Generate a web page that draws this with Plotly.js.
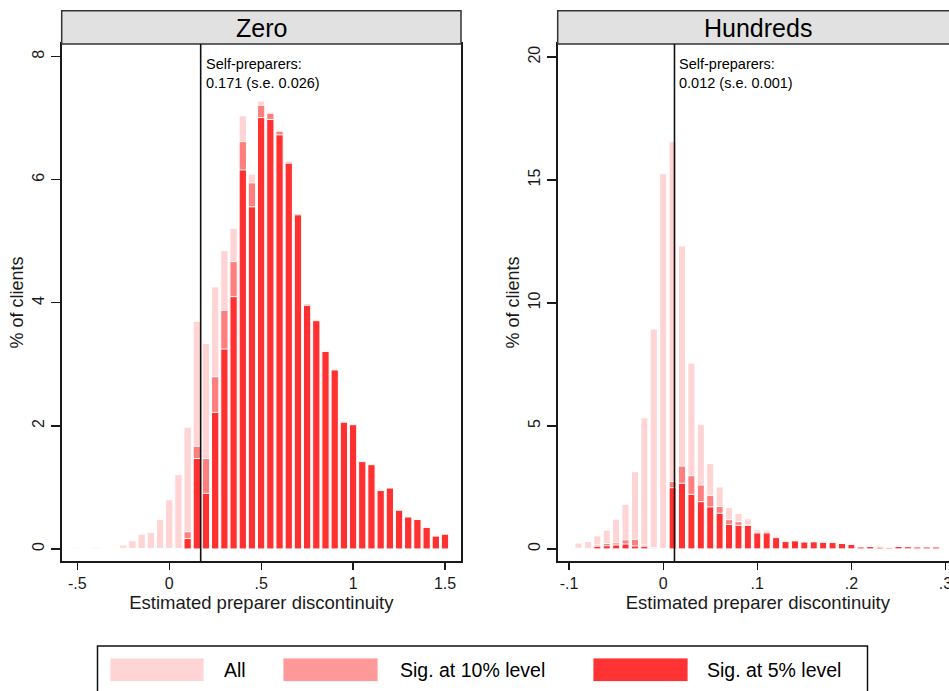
<!DOCTYPE html>
<html>
<head>
<meta charset="utf-8">
<script src="https://cdn.plot.ly/plotly-3.0.1.min.js"></script>
<style>
  html, body { margin: 0; padding: 0; overflow: hidden; background: #fff; }
  #chart { width: 960px; height: 691px; }
</style>
</head>
<body>
<div id="chart"></div>
<script>
// Distribution of estimated preparer discontinuities (% of clients), by rounding group.
const panelTitles = ['Zero', 'Hundreds'];
const seriesNames = ['All', 'Sig. at 10% level', 'Sig. at 5% level'];

// Panel "Zero": bin centres (width 0.05) and shares
const zeroBins = [-0.50, -0.45, -0.40, -0.35, -0.30, -0.25, -0.20, -0.15, -0.10, -0.05,
  0.00, 0.05, 0.10, 0.15, 0.20, 0.25, 0.30, 0.35, 0.40, 0.45,
  0.50, 0.55, 0.60, 0.65, 0.70, 0.75, 0.80, 0.85, 0.90, 0.95,
  1.00, 1.05, 1.10, 1.15, 1.20, 1.25, 1.30, 1.35, 1.40, 1.45, 1.50];
const zeroAll = [0.02, 0.02, 0.03, 0.01, 0.02, 0.065, 0.135, 0.24, 0.27, 0.48,
  0.80, 1.21, 1.98, 3.70, 3.34, 4.26, 4.85, 5.21, 7.04, 6.09,
  7.28, 7.10, 6.81, 6.31, 5.46, 3.99, 3.72, 3.23, 2.93, 2.07,
  2.03, 1.43, 1.39, 0.96, 1.01, 0.65, 0.54, 0.50, 0.37, 0.23, 0.26];
const zeroSig10 = [0.01, 0.00, 0.01, 0.00, 0.00, 0.01, 0.00, 0.00, 0.00, 0.00,
  0.00, 0.00, 0.28, 1.67, 1.47, 2.80, 3.88, 4.67, 6.62, 5.95,
  7.21, 7.08, 6.79, 6.29, 5.45, 3.98, 3.72, 3.22, 2.92, 2.07,
  2.03, 1.43, 1.38, 0.96, 1.00, 0.64, 0.53, 0.49, 0.36, 0.22, 0.25];
const zeroSig5 = [0.01, 0.00, 0.01, 0.00, 0.00, 0.01, 0.00, 0.00, 0.00, 0.00,
  0.00, 0.00, 0.17, 1.47, 0.905, 2.22, 3.25, 4.10, 6.16, 5.56,
  7.01, 6.98, 6.73, 6.27, 5.43, 3.96, 3.71, 3.21, 2.91, 2.06,
  2.02, 1.42, 1.37, 0.95, 0.99, 0.63, 0.52, 0.48, 0.35, 0.21, 0.24];

// Panel "Hundreds": bin centres (width 0.01) and shares
const hundredsBins = [-0.09, -0.08, -0.07, -0.06, -0.05, -0.04, -0.03, -0.02, -0.01,
  0.00, 0.01, 0.02, 0.03, 0.04, 0.05, 0.06, 0.07, 0.08, 0.09,
  0.10, 0.11, 0.12, 0.13, 0.14, 0.15, 0.16, 0.17, 0.18, 0.19,
  0.20, 0.21, 0.22, 0.23, 0.24, 0.25, 0.26, 0.27, 0.28, 0.29];
const hundredsAll = [0.24, 0.30, 0.53, 0.76, 1.21, 1.82, 3.14, 5.33, 8.94,
  15.26, 16.56, 12.32, 7.56, 5.07, 3.47, 2.52, 1.68, 1.45, 1.23,
  0.80, 0.77, 0.56, 0.35, 0.35, 0.33, 0.31, 0.31, 0.30, 0.27,
  0.23, 0.14, 0.11, 0.14, 0.08, 0.11, 0.14, 0.10, 0.14, 0.10];
const hundredsSig10 = [0.03, 0.02, 0.16, 0.22, 0.25, 0.37, 0.39, 0.16, 0.05,
  0.00, 2.74, 3.37, 2.98, 2.60, 2.18, 1.73, 1.19, 1.11, 0.98,
  0.70, 0.70, 0.50, 0.32, 0.34, 0.30, 0.30, 0.28, 0.28, 0.24,
  0.20, 0.10, 0.10, 0.09, 0.06, 0.10, 0.11, 0.09, 0.10, 0.09];
const hundredsSig5 = [0.02, 0.01, 0.11, 0.13, 0.16, 0.20, 0.12, 0.11, 0.03,
  0.00, 2.49, 2.67, 2.22, 1.92, 1.71, 1.45, 1.00, 0.96, 0.96,
  0.65, 0.65, 0.46, 0.30, 0.33, 0.28, 0.29, 0.27, 0.26, 0.22,
  0.18, 0.08, 0.10, 0.07, 0.05, 0.10, 0.09, 0.08, 0.08, 0.08];

// Self-preparer estimates and standard errors
const selfPrep = [0.171, 0.012];
const selfPrepSE = [0.026, 0.001];

// Axis ticks
const zeroXTicks = [-0.5, 0, 0.5, 1, 1.5];
const zeroXLabels = ['-.5', '0', '.5', '1', '1.5'];
const zeroYTicks = [0, 2, 4, 6, 8];
const hundredsXTicks = [-0.1, 0, 0.1, 0.2, 0.3];
const hundredsXLabels = ['-.1', '0', '.1', '.2', '.3'];
const hundredsYTicks = [0, 5, 10, 15, 20];

const xTitle = 'Estimated preparer discontinuity';
const yTitle = '% of clients';

// ---- styling ----
const W = 960, H = 691;
const FONT = '"Liberation Sans", Arial, Helvetica, sans-serif';
const INK = '#1a1a1a';
// layered bar fills (stacked transparency) and the flat key colours
const fills = ['rgba(255,0,0,0.17)', 'rgba(255,0,0,0.40)', 'rgba(255,0,0,0.62)'];
const keyFills = ['#ffd4d4', '#ff9999', '#ff3333'];
const px = v => v / W;
const py = v => 1 - v / H;

const panels = [
  { bins: zeroBins, series: [zeroAll, zeroSig10, zeroSig5], width: 0.04,
    dom: [px(61.7), px(461)], xr: [-0.585, 1.587], yr: [-0.195, 8.206],
    xt: zeroXTicks, xl: zeroXLabels, yt: zeroYTicks },
  { bins: hundredsBins, series: [hundredsAll, hundredsSig10, hundredsSig5], width: 0.0075,
    dom: [px(557.7), px(958)], xr: [-0.1121, 0.3133], yr: [-0.49, 20.53],
    xt: hundredsXTicks, xl: hundredsXLabels, yt: hundredsYTicks }
];

const yDom = [py(561), py(44)];
const traces = [];
const layout = {
  width: W, height: H,
  margin: { l: 0, r: 0, t: 0, b: 0 },
  paper_bgcolor: '#fff', plot_bgcolor: '#fff',
  barmode: 'overlay', showlegend: false,
  font: { family: FONT, color: INK },
  shapes: [], annotations: []
};

panels.forEach((p, i) => {
  const xa = i === 0 ? 'x' : 'x2';
  const ya = i === 0 ? 'y' : 'y2';
  const xk = i === 0 ? 'xaxis' : 'xaxis2';
  const yk = i === 0 ? 'yaxis' : 'yaxis2';

  p.series.forEach((vals, s) => {
    traces.push({
      type: 'bar', x: p.bins, y: vals, width: p.width,
      name: seriesNames[s], xaxis: xa, yaxis: ya,
      marker: { color: fills[s], line: { color: '#ffffff', width: 1 } },
      hoverinfo: 'skip'
    });
  });

  layout[xk] = {
    domain: p.dom, range: p.xr, anchor: ya,
    tickmode: 'array', tickvals: p.xt, ticktext: p.xl,
    ticks: 'outside', ticklen: 7, tickwidth: 1.3, tickcolor: INK,
    showline: true, mirror: true, linecolor: INK, linewidth: 1.6,
    showgrid: false, zeroline: false,
    tickfont: { size: 16, family: FONT, color: INK },
    title: { text: xTitle, font: { size: 18.5, family: FONT, color: INK }, standoff: 5 }
  };
  layout[yk] = {
    domain: yDom, range: p.yr, anchor: xa,
    tickmode: 'array', tickvals: p.yt,
    ticks: 'outside', ticklen: 9, tickwidth: 1.3, tickcolor: INK,
    tickangle: -90, ticklabelstandoff: 1,
    showline: true, mirror: true, linecolor: INK, linewidth: 1.6,
    showgrid: false, zeroline: false,
    tickfont: { size: 16, family: FONT, color: INK },
    title: { text: yTitle, font: { size: 18, family: FONT, color: INK }, standoff: 1 }
  };

  // panel header strip
  layout.shapes.push({
    type: 'rect', xref: xa + ' domain', yref: 'paper',
    x0: 0, x1: 1, y0: py(44), y1: py(10.7),
    fillcolor: '#e1e1e1', line: { color: '#333', width: 1.5 }, layer: 'above'
  });
  layout.annotations.push({
    xref: xa + ' domain', yref: 'paper', x: 0.5, y: py(27.5),
    xanchor: 'center', yanchor: 'middle', showarrow: false,
    text: panelTitles[i], font: { size: 25, family: FONT, color: '#000' }
  });

  // self-preparer reference line and label
  layout.shapes.push({
    type: 'line', xref: xa, yref: ya + ' domain',
    x0: selfPrep[i], x1: selfPrep[i], y0: 0, y1: 1,
    line: { color: '#111', width: 1.6 }, layer: 'above'
  });
  layout.annotations.push({
    xref: xa, yref: 'paper', x: selfPrep[i], xshift: 3, y: py(54),
    xanchor: 'left', yanchor: 'top', align: 'left', showarrow: false,
    text: 'Self-preparers:<br>' + selfPrep[i].toFixed(3) + ' (s.e. ' + selfPrepSE[i].toFixed(3) + ')',
    font: { size: 14.5, family: FONT, color: '#000' }
  });
});

// legend box with wide swatches
layout.shapes.push({
  type: 'rect', xref: 'paper', yref: 'paper',
  x0: px(97.5), x1: px(867.5), y0: py(705), y1: py(646),
  fillcolor: 'rgba(0,0,0,0)', line: { color: '#111', width: 1.5 }
});
const swatchX = [[110, 204], [283, 378], [593, 688]];
const labelX = [222, 398, 705];
seriesNames.forEach((name, s) => {
  layout.shapes.push({
    type: 'rect', xref: 'paper', yref: 'paper',
    x0: px(swatchX[s][0]), x1: px(swatchX[s][1]), y0: py(681.5), y1: py(658),
    fillcolor: keyFills[s], line: { color: 'rgba(255,255,255,0.8)', width: 1 }
  });
  layout.annotations.push({
    xref: 'paper', yref: 'paper', x: px(labelX[s]), y: py(670),
    xanchor: 'left', yanchor: 'middle', showarrow: false,
    text: name, font: { size: 19.5, family: FONT, color: '#000' }
  });
});

Plotly.newPlot('chart', traces, layout, { displayModeBar: false, staticPlot: true });
</script>
</body>
</html>
